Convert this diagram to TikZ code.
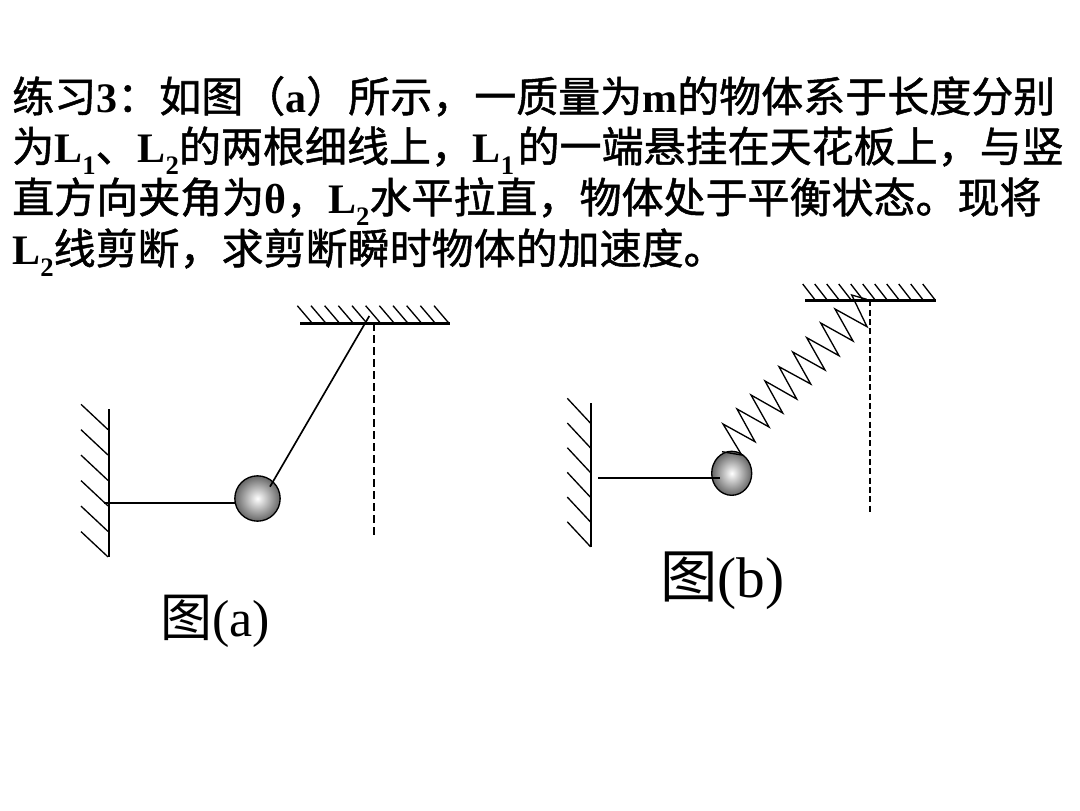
\documentclass[tikz,border=0pt]{standalone}
\usepackage{fontspec}
\setmainfont{Liberation Serif}
\newfontfamily\cjk[BoldFont={Noto Sans CJK SC},BoldFeatures={FakeBold=1.2}]{Noto Sans CJK SC}
\usetikzlibrary{shapes.geometric}
\newcommand{\lsub}[1]{\smash{\raisebox{-0.3em}{\fontsize{20}{20}\selectfont #1}}}
\tikzset{
  textline/.style={anchor=base west,inner sep=0pt,font=\fontsize{31.5}{31.5}\selectfont\bfseries},
  ball/.style={draw,line width=1pt,inner sep=0pt,shade,inner color=white,outer color=black!60},
  hatch/.style={line width=1pt},
  wire/.style={line width=1.25pt},
  vline/.style={line width=1.3pt}
}
\begin{document}
\begin{tikzpicture}
  [x=0.75pt,y=-0.75pt]
    \useasboundingbox (0,0) rectangle (1080,810);

    \node (line1)[textline] at (12,112)  {{\cjk 练习}3{\cjk ：如图（}a{\cjk ）所示，一质量为}m{\cjk 的物体系于长度分别}};
    \node (line2)[textline] at (12,162)  {{\cjk 为}L\lsub{1}{\cjk 、}L\lsub{2}{\cjk 的两根细线上，}L\lsub{1}\kern2.5pt{\cjk 的一端悬挂在天花板上，与竖}};
    \node (line3)[textline] at (12,213)  {{\cjk 直方向夹角为}θ{\cjk ，}L\lsub{2}{\cjk 水平拉直，物体处于平衡状态。现将}};
    \node (line4)[textline] at (12,264)  {L\lsub{2}{\cjk 线剪断，求剪断瞬时物体的加速度。}};

    % figure (a)
    \node (ballA)[ball,circle,minimum size=34pt] at (257.5,498.5) {};
    \coordinate (wallA) at (104,502.7);
    \coordinate (stopA) at (235,502.7);
    \coordinate (topA)  at (369.3,316);
    \coordinate (tieA)  at (270,486.7);
    \coordinate (ceilA) at (373.7,323.3);
    \coordinate (endA)  at (373.7,538.3);

    \draw[line width=1.3pt] (108.7,409) -- (108.7,557);
    \foreach \y in {404.3,429.7,455.1,480.6,506.1,531.6}
      \draw[hatch] (81,\y) -- ++(27,25.3);
    \draw[line width=1.8pt] (300,323.3) -- (450,323.3);
    \foreach \i in {0,...,10}
      \draw[hatch] (297.3+13.67*\i,305.7) -- ++(15,17.6);
    \draw[wire] (wallA) -- (stopA);
    \draw[wire] (tieA) -- (topA);
    \draw[vline,dash pattern=on 6pt off 3pt] (ceilA) -- (endA);

    \node (capA)[anchor=base west,inner sep=0pt,font=\fontsize{39}{39}\selectfont] at (160,636) {{\cjk 图}(a)};

    % figure (b)
    \node (ballB)[ball,ellipse,minimum width=30pt,minimum height=33pt] at (731.7,473.3) {};
    \coordinate (wallB) at (598,477.7);
    \coordinate (stopB) at (720,477.7);
    \coordinate (ceilB) at (870,300.3);
    \coordinate (endB)  at (870,512.7);
    \coordinate (tieB)  at (722,451.7);
    \coordinate (topB)  at (866.7,299.3);

    \draw[line width=1.7pt] (591,403.3) -- (591,546.7);
    \foreach \y in {398.3,423,447.7,472.4,497.1,521.8}
      \draw[hatch] (567.3,\y) -- ++(23.3,25);
    \draw[line width=1.9pt] (805,300.3) -- (936,300.3);
    \foreach \i in {0,...,10}
      \draw[hatch] (802.7+12*\i,284) -- ++(12.7,16.3);
    \draw[wire] (wallB) -- (stopB);
    \draw[vline,dash pattern=on 4.5pt off 2.5pt] (ceilB) -- (endB);
    \draw[hatch] (tieB) -- (741.7,455) -- (723,424) -- (755,441.7) -- (737,409) -- (769,427)
      -- (751,395) -- (782.7,413) -- (765,381) -- (796.7,399) -- (779,366.7) -- (810.7,384)
      -- (792.7,352) -- (825,370) -- (806.7,337.7) -- (839,355.7) -- (820.7,323) -- (853,341)
      -- (835,309) -- (867,326.7) -- (851.7,295) -- (topB);

    \node (capB)[anchor=base west,inner sep=0pt,font=\fontsize{43}{43}\selectfont] at (660,597) {{\cjk 图}(b)};
  \end{tikzpicture}
\end{document}
